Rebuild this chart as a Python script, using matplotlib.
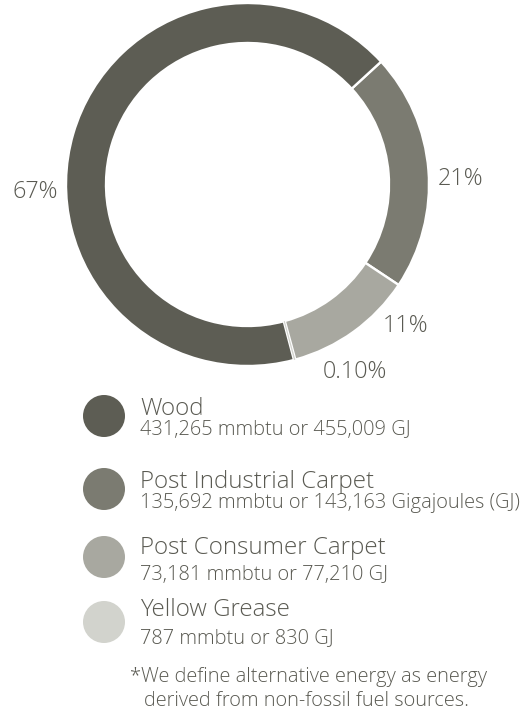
import matplotlib.pyplot as plt
from matplotlib.patches import Circle

# energy sources and their annual consumption
sources = ['Wood', 'Post Industrial Carpet', 'Post Consumer Carpet', 'Yellow Grease']
mmbtu = [431265, 135692, 73181, 787]
gj_text = ['455,009 GJ', '143,163 Gigajoules (GJ)', '77,210 GJ', '830 GJ']
pct_labels = ['67%', '21%', '11%', '0.10%']
colors = ['#5d5d54', '#7b7b71', '#a8a8a0', '#d2d3cd']
footnote = ['*We define alternative energy as energy',
            'derived from non-fossil fuel sources.']

plt.rcParams['font.family'] = ['Open Sans', 'DejaVu Sans']
plt.rcParams['font.weight'] = 'light'
text_color = '#5a5a52'

W, H = 531, 712
fig = plt.figure(figsize=(W / 100, H / 100), dpi=100)

# donut: centre (247.5, 184.5) px, outer radius 181.5 px
cx, cy, r = 247.5, 184.5, 181.5
ax = fig.add_axes([(cx - r) / W, 1 - (cy + r) / H, 2 * r / W, 2 * r / H])
order = [1, 2, 3, 0]
wedges, _ = ax.pie([mmbtu[i] for i in order],
                   colors=[colors[i] for i in order],
                   startangle=42.6, counterclock=False,
                   wedgeprops=dict(width=40 / r, edgecolor='white', linewidth=1.7))
# keep the tiny yellow grease slice visible between the white separators
wedges[2].set_linewidth(0)
wedges[2].set_zorder(3)
ax.set_xlim(-1, 1)
ax.set_ylim(-1, 1)
ax.set_aspect('equal')

# overlay in pixel coordinates for labels and legend
lay = fig.add_axes([0, 0, 1, 1])
lay.set_xlim(0, W)
lay.set_ylim(H, 0)
lay.axis('off')

pct_pos = [(12, 198), (438, 185), (383, 332.5), (323, 378)]
for txt, (x, y) in zip(pct_labels, pct_pos):
    lay.text(x, y, txt, fontsize=16.8, color=text_color, ha='left', va='baseline')

# legend rows
circle_y = [416, 489, 557, 622]
title_y = [415, 488.5, 553.5, 616.5]
sub_y = [435, 508, 580, 643]
for i, name in enumerate(sources):
    lay.add_patch(Circle((104, circle_y[i]), 21, color=colors[i], lw=0))
    lay.text(140, title_y[i], name, fontsize=17.4, color=text_color,
             ha='left', va='baseline')
    lay.text(140, sub_y[i], f'{mmbtu[i]:,} mmbtu or {gj_text[i]}', fontsize=14.4,
             color=text_color, ha='left', va='baseline')

lay.text(130, 682, footnote[0], fontsize=14.4, color=text_color, ha='left', va='baseline')
lay.text(144, 706, footnote[1], fontsize=14.4, color=text_color, ha='left', va='baseline')

fig.savefig('out.png', dpi=100)
